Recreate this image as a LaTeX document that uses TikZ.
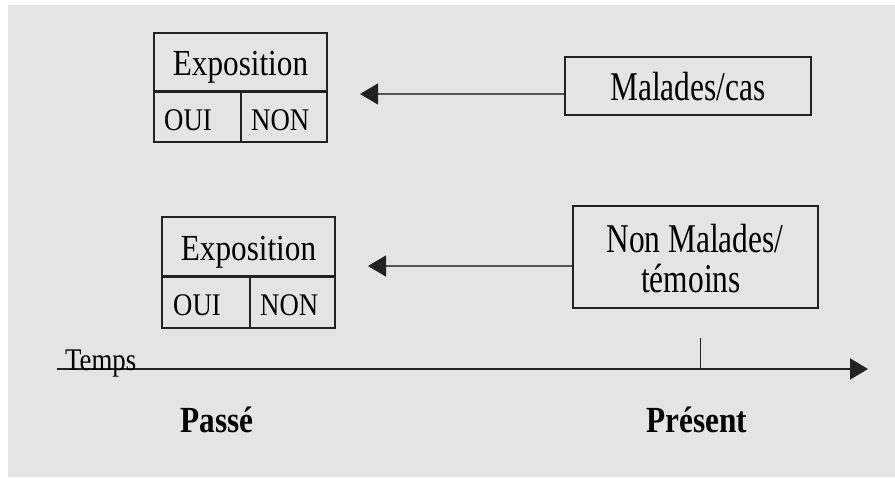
\documentclass[tikz,border=0pt]{standalone}
\usepackage{fontspec}
\setmainfont{Liberation Serif}[FakeStretch=0.85]
\newfontfamily\narrowserif{Liberation Serif}[FakeStretch=0.77]
\usetikzlibrary{arrows.meta}
\definecolor{bggray}{HTML}{E4E4E4}
\definecolor{linegray}{HTML}{222222}
\definecolor{arrgray}{HTML}{555555}
\tikzset{
  cell/.style={draw=linegray, line width=1.5pt, inner sep=0pt, fill=none},
  bigtxt/.style={inner sep=0pt, font=\fontsize{36.7}{40}\selectfont},
  rtxt/.style={inner sep=0pt, font=\narrowserif\fontsize{40.8}{40}\selectfont},
  smalltxt/.style={inner sep=0pt, font=\fontsize{31.5}{34}\selectfont},
  boldtxt/.style={inner sep=0pt, font=\fontsize{36.8}{40}\selectfont\bfseries},
  tip/.style={-{Triangle[length=18pt,width=21pt,color=linegray]}},
  backarrow/.style={draw=arrgray, line width=1.2pt, tip},
}
\begin{document}
\begin{tikzpicture}[x=1pt,y=-1pt]
\useasboundingbox (0,0) rectangle (895,477);
\fill[bggray] (8,5) rectangle (895,477);

% ---- top table
\node[cell, minimum width=173pt, minimum height=58pt] (exp1) at (240.5,62) {};
\node[cell, minimum width=87pt, minimum height=51pt] (oui1) at (197.5,116.5) {};
\node[cell, minimum width=86pt, minimum height=51pt] (non1) at (284,116.5) {};
\draw[linegray, line width=2.5pt] (exp1.south west) -- (exp1.south east);
\node[bigtxt, anchor=base] (exp1t) at (240.5,75) {Exposition};
\node[smalltxt, anchor=base west] (oui1t) at (164,130) {OUI};
\node[smalltxt, anchor=base west] (non1t) at (251,130) {NON};

% ---- bottom table
\node[cell, minimum width=173pt, minimum height=59pt] (exp2) at (248.5,246.5) {};
\node[cell, minimum width=88pt, minimum height=52pt] (oui2) at (206,302) {};
\node[cell, minimum width=85pt, minimum height=52pt] (non2) at (292.5,302) {};
\draw[linegray, line width=3pt] (exp2.south west) -- (exp2.south east);
\node[bigtxt, anchor=base] (exp2t) at (248.5,260) {Exposition};
\node[smalltxt, anchor=base west] (oui2t) at (173,315) {OUI};
\node[smalltxt, anchor=base west] (non2t) at (260,315) {NON};

% ---- right boxes
\node[cell, minimum width=246pt, minimum height=58pt] (mal) at (688,86) {};
\node[rtxt, anchor=base] (malt) at (688,100) {Malades/cas};
\node[cell, minimum width=245pt, minimum height=102pt] (nonmal) at (695.5,257) {};
\node[rtxt, anchor=base] (nonmalt1) at (695,252) {Non Malades/};
\node[rtxt, anchor=base] (nonmalt2) at (691,292) {témoins};

% ---- arrows
\coordinate (tip1) at (360,94);
\coordinate (tip2) at (368,266);
\draw[backarrow] (mal.west |- tip1) -- (tip1);
\draw[backarrow] (nonmal.west |- tip2) -- (tip2);

% ---- time axis
\coordinate (axs) at (57,369);
\coordinate (axe) at (868,369);
\draw[linegray, line width=2.2pt, tip] (axs) -- (axe);
\coordinate (tickt) at (700,338);
\draw[linegray, line width=1pt] (tickt) -- (tickt |- axs);
\node[smalltxt, anchor=base west] (temps) at (65,370) {Temps};
\node[boldtxt, anchor=base] (passe) at (217,432) {Passé};
\node[boldtxt, anchor=base] (present) at (697,432) {Présent};
\end{tikzpicture}
\end{document}
